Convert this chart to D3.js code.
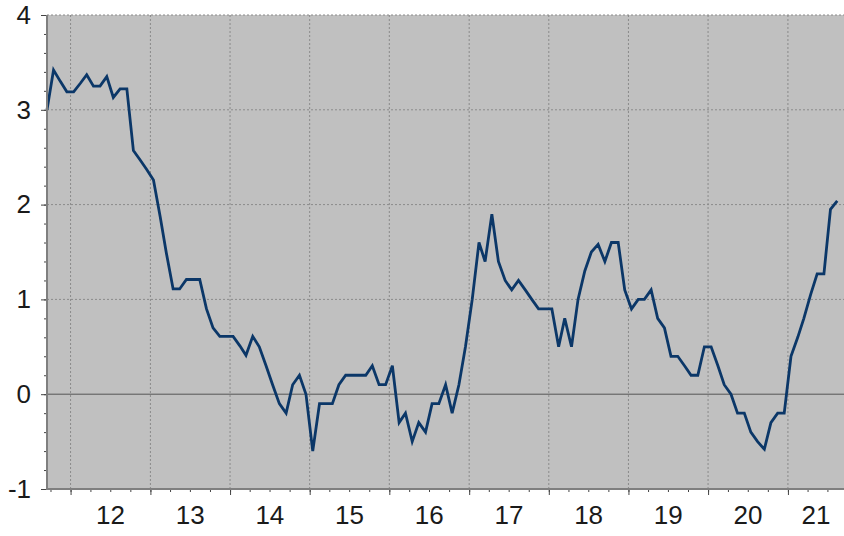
<!DOCTYPE html>
<html lang="en">
  <head>
    <meta charset="utf-8" />
    <title>monthly series 2011-2021</title>
    <script type="text/javascript" src="https://d3js.org/d3.v7.min.js"></script>
    <style>
      html, body { margin: 0; padding: 0; background: #fff; }
      svg text { font-family: "Liberation Sans", Arial, sans-serif; }
    </style>
  </head>
  <body>
    <div id="chart"></div>

    <script type="text/javascript">
      /********************************
       * data (monthly, Sep 2011 - Aug 2021)
       ********************************/

      const startYear = 2011;
      const startMonth = 8; // September (0-based)

      const values = [
        3.0, 3.42, 3.3, 3.19, 3.19, 3.28, 3.37, 3.25, 3.25, 3.35, 3.13, 3.22,
        3.22, 2.57, 2.47, 2.37, 2.26, 1.87, 1.49, 1.11, 1.11, 1.21, 1.21, 1.21,
        0.9, 0.7, 0.61, 0.61, 0.61, 0.51, 0.41, 0.61, 0.5, 0.3, 0.1, -0.1,
        -0.2, 0.1, 0.2, 0.0, -0.6, -0.1, -0.1, -0.1, 0.1, 0.2, 0.2, 0.2,
        0.2, 0.3, 0.1, 0.1, 0.3, -0.3, -0.2, -0.5, -0.3, -0.4, -0.1, -0.1,
        0.1, -0.2, 0.1, 0.5, 1.0, 1.6, 1.4, 1.9, 1.4, 1.2, 1.1, 1.2,
        1.1, 1.0, 0.9, 0.9, 0.9, 0.5, 0.8, 0.5, 1.0, 1.3, 1.5, 1.58,
        1.4, 1.6, 1.6, 1.1, 0.9, 1.0, 1.0, 1.1, 0.8, 0.7, 0.4, 0.4,
        0.3, 0.2, 0.2, 0.5, 0.5, 0.3, 0.1, 0.0, -0.2, -0.2, -0.4, -0.5,
        -0.58, -0.3, -0.2, -0.2, 0.4, 0.6, 0.8, 1.05, 1.27, 1.27, 1.95, 2.04,
      ];

      const yTicks = [-1, 0, 1, 2, 3, 4];
      const yearLabels = ["12", "13", "14", "15", "16", "17", "18", "19", "20", "21"];

      const series = values.map((v, i) => ({
        date: new Date(startYear, startMonth + i, 15),
        value: v,
      }));

      /***************************
       * create svg
       **************************/

      const width = 844;
      const height = 536;
      const margin = { top: 15, right: 0, bottom: 47, left: 47 };

      const svg = d3
        .select("div#chart")
        .append("svg")
        .attr("width", width)
        .attr("height", height);

      /************************
       * scales
       ***********************/

      const x = d3
        .scaleTime()
        .domain([new Date(2011, 8, 15), new Date(2021, 8, 15)])
        .range([margin.left, width - margin.right]);

      const y = d3
        .scaleLinear()
        .domain([-1, 4])
        .range([height - margin.bottom, margin.top]);

      const x0 = x.range()[0];
      const x1 = x.range()[1];
      const yBottom = y.range()[0];
      const yTop = y.range()[1];

      // plot background
      svg
        .append("rect")
        .attr("x", x0)
        .attr("y", yTop)
        .attr("width", x1 - x0)
        .attr("height", yBottom - yTop)
        .attr("fill", "#c0c0c0");

      /*******************
       * grid
       *********************/

      const yearStarts = d3.timeYear.range(x.domain()[0], x.domain()[1]);
      const quarters = d3.timeMonth.every(3).range(x.domain()[0], x.domain()[1]);

      svg
        .append("g")
        .selectAll("line")
        .data(yearStarts)
        .join("line")
        .attr("x1", (d) => x(d))
        .attr("x2", (d) => x(d))
        .attr("y1", yTop)
        .attr("y2", yBottom)
        .attr("stroke", "#8a8a8a")
        .attr("stroke-width", 1)
        .attr("stroke-dasharray", "2,2");

      svg
        .append("g")
        .selectAll("line")
        .data(yTicks.filter((d) => d !== 0 && d !== -1))
        .join("line")
        .attr("x1", x0)
        .attr("x2", x1)
        .attr("y1", (d) => y(d))
        .attr("y2", (d) => y(d))
        .attr("stroke", "#8a8a8a")
        .attr("stroke-width", 1)
        .attr("stroke-dasharray", "2,2");

      // zero line
      svg
        .append("line")
        .attr("x1", x0)
        .attr("x2", x1)
        .attr("y1", y(0))
        .attr("y2", y(0))
        .attr("stroke", "#555")
        .attr("stroke-width", 1);

      /*******************
       * line
       *********************/

      const line = d3
        .line()
        .x((d) => x(d.date))
        .y((d) => y(d.value));

      svg
        .append("path")
        .datum(series)
        .attr("d", line)
        .attr("fill", "none")
        .attr("stroke", "#0b3768")
        .attr("stroke-width", 2.8)
        .attr("stroke-linejoin", "miter");

      /*******************
       * axes
       *********************/

      const axisColor = "#7f7f7f";

      // y minor ticks
      const yMinor = svg
        .append("g")
        .attr("transform", `translate(${x0},0)`)
        .call(
          d3
            .axisLeft(y)
            .tickValues(d3.range(-1, 4.01, 0.2))
            .tickSize(3)
            .tickFormat("")
        );
      yMinor.select(".domain").remove();
      yMinor.selectAll("line").attr("stroke", "#444");

      // y major ticks + labels (plain hyphen for negatives)
      const yAxis = svg
        .append("g")
        .attr("transform", `translate(${x0},0)`)
        .call(
          d3
            .axisLeft(y)
            .tickValues(yTicks)
            .tickFormat((d) => String(d))
            .tickSize(6)
            .tickPadding(10)
        );
      yAxis.select(".domain").remove();
      yAxis.selectAll("line").attr("stroke", "#444");
      yAxis
        .selectAll("text")
        .attr("font-size", 26)
        .attr("fill", "#1a1a1a")
        .attr("font-family", "'Liberation Sans', Arial, sans-serif");

      // x minor ticks (quarters)
      const xMinor = svg
        .append("g")
        .attr("transform", `translate(0,${yBottom})`)
        .call(d3.axisBottom(x).tickValues(quarters).tickSize(3).tickFormat(""));
      xMinor.select(".domain").remove();
      xMinor.selectAll("line").attr("stroke", "#444");

      // x major ticks (year starts)
      const xAxis = svg
        .append("g")
        .attr("transform", `translate(0,${yBottom})`)
        .call(d3.axisBottom(x).tickValues(yearStarts).tickSize(6).tickFormat(""));
      xAxis.select(".domain").remove();
      xAxis.selectAll("line").attr("stroke", "#444");

      // axis lines
      svg
        .append("line")
        .attr("x1", x0)
        .attr("x2", x0)
        .attr("y1", yTop)
        .attr("y2", yBottom)
        .attr("stroke", axisColor)
        .attr("stroke-width", 2);
      svg
        .append("line")
        .attr("x1", x0 - 1)
        .attr("x2", x1)
        .attr("y1", yBottom)
        .attr("y2", yBottom)
        .attr("stroke", axisColor)
        .attr("stroke-width", 2);

      // year labels, centred in the visible part of each year
      const labelData = yearLabels.map((lbl) => {
        const yr = 2000 + +lbl;
        const a = Math.max(x(new Date(yr, 0, 1)), x0);
        const b = Math.min(x(new Date(yr + 1, 0, 1)), x1);
        return { lbl, cx: (a + b) / 2 };
      });

      svg
        .append("g")
        .selectAll("text")
        .data(labelData)
        .join("text")
        .attr("x", (d) => d.cx)
        .attr("y", yBottom + 35)
        .attr("text-anchor", "middle")
        .attr("font-size", 26)
        .attr("fill", "#1a1a1a")
        .text((d) => d.lbl);
    </script>
  </body>
</html>
